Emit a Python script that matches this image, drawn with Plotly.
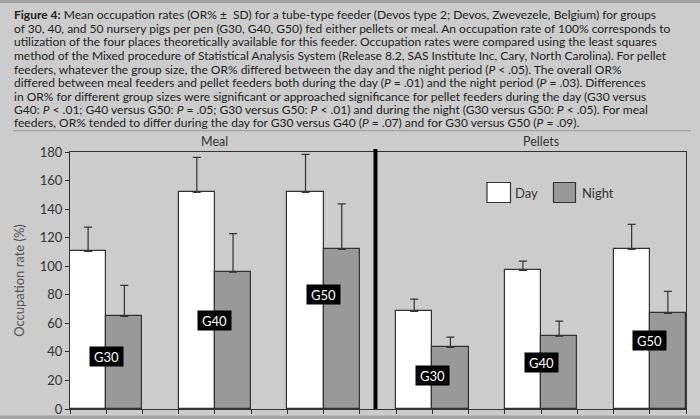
import plotly.graph_objects as go

# ---- data ----
groups = ["G30", "G40", "G50", "G30", "G40", "G50"]
feed = ["Meal", "Meal", "Meal", "Pellets", "Pellets", "Pellets"]
day_mean = [110.4, 151.7, 151.7, 68.4, 97.1, 111.8]
day_sd = [17.0, 24.5, 26.7, 8.6, 6.5, 17.5]
night_mean = [64.9, 95.9, 111.8, 43.2, 51.1, 67.0]
night_sd = [21.7, 26.9, 31.8, 7.2, 10.5, 15.4]
label_y = [37, 62, 80, 23.6, 32.4, 48.3]
y_ticks = [0, 20, 40, 60, 80, 100, 120, 140, 160, 180]

caption = [
    "<b>Figure 4:</b> Mean occupation rates (OR% ±  SD) for a tube-type feeder (Devos type 2; Devos, Zwevezele, Belgium) for groups",
    "of 30, 40, and 50 nursery pigs per pen (G30, G40, G50) fed either pellets or meal. An occupation rate of 100% corresponds to",
    "utilization of the four places theoretically available for this feeder. Occupation rates were compared using the least squares",
    "method of the Mixed procedure of Statistical Analysis System (Release 8.2, SAS Institute Inc, Cary, North Carolina). For pellet",
    "feeders, whatever the group size, the OR% differed between the day and the night period (<i>P</i> < .05). The overall OR%",
    "differed between meal feeders and pellet feeders both during the day (<i>P</i> = .01) and the night period (<i>P</i> = .03). Differences",
    "in OR% for different group sizes were significant or approached significance for pellet feeders during the day (G30 versus",
    "G40: <i>P</i> < .01; G40 versus G50: <i>P</i> = .05; G30 versus G50: <i>P</i> < .01) and during the night (G30 versus G50: <i>P</i> < .05). For meal",
    "feeders, OR% tended to differ during the day for G30 versus G40 (<i>P</i> = .07) and for G30 versus G50 (<i>P</i> = .09).",
]

# ---- geometry ----
W, H = 700, 419
L, R, T, B = 70, 14, 152, 10
PW, PH = W - L - R, H - T - B
def px(xpix):
    return (xpix - L) / PW
def py(ypix):
    return (H - B - ypix) / PH

FONT = "Lato"
BG = "#cccccc"
EDGE = "#333333"

n = len(groups)
step = 3
day_x = [i * step + 0.5 for i in range(n)]
night_x = [i * step + 1.5 for i in range(n)]
xmax = n * step - 1

fig = go.Figure()
fig.add_trace(go.Bar(
    x=day_x, y=day_mean, width=1, name="Day",
    marker=dict(color="white", line=dict(color=EDGE, width=1.2)),
    error_y=dict(type="data", array=day_sd, arrayminus=[0] * n, symmetric=False,
                 color=EDGE, thickness=1.2, width=4),
))
fig.add_trace(go.Bar(
    x=night_x, y=night_mean, width=1, name="Night",
    marker=dict(color="#999999", line=dict(color=EDGE, width=1.2)),
    error_y=dict(type="data", array=night_sd, arrayminus=[0] * n, symmetric=False,
                 color=EDGE, thickness=1.2, width=4),
))

ann = []
for i, g in enumerate(groups):
    ann.append(dict(x=i * step + 1, y=label_y[i], xref="x", yref="y", text=g,
                    showarrow=False, bgcolor="black", width=31, height=17, borderpad=1,
                    font=dict(family=FONT, size=13, color="white")))

# panel titles
panels = ["Meal", "Pellets"]
for k, p in enumerate(panels):
    idx = [i for i, f in enumerate(feed) if f == p]
    cx = (idx[0] * step + idx[-1] * step + 2) / 2
    ann.append(dict(x=cx, y=py(142), xref="x", yref="paper", text=p, showarrow=False,
                    yanchor="middle", font=dict(family=FONT, size=12.5, color="#333333")))

# legend text
ann.append(dict(x=px(513), y=py(192.5), xref="paper", yref="paper", text="Day", xanchor="left",
                yanchor="middle", showarrow=False, font=dict(family=FONT, size=13, color="#333333")))
ann.append(dict(x=px(580), y=py(192.5), xref="paper", yref="paper", text="Night", xanchor="left",
                yanchor="middle", showarrow=False, font=dict(family=FONT, size=13, color="#333333")))

# caption
for j, line in enumerate(caption):
    ann.append(dict(x=px(12), y=py(15 + j * 13.5), xref="paper", yref="paper", text=line,
                    xanchor="left", yanchor="middle", showarrow=False,
                    font=dict(family=FONT, size=12.0, color="#222222")))

shapes = [
    # top and bottom bands
    dict(type="rect", xref="paper", yref="paper", x0=px(0), x1=px(W), y0=py(0), y1=py(3),
         fillcolor="#a3a3a3", line=dict(width=0), layer="below"),
    dict(type="rect", xref="paper", yref="paper", x0=px(0), x1=px(W), y0=py(415.5), y1=py(H),
         fillcolor="#a3a3a3", line=dict(width=0), layer="below"),
    # caption separator
    dict(type="line", xref="paper", yref="paper", x0=px(13), x1=px(691), y0=py(130.7), y1=py(130.7),
         line=dict(color="#999999", width=1)),
    # divider between meal and pellets
    dict(type="line", xref="x", yref="paper", x0=8.43, x1=8.43, y0=0, y1=py(149),
         line=dict(color="black", width=4)),
    # legend swatches
    dict(type="rect", xref="paper", yref="paper", x0=px(487), x1=px(510.5), y0=py(182.5), y1=py(202.5),
         fillcolor="white", line=dict(color=EDGE, width=1.2)),
    dict(type="rect", xref="paper", yref="paper", x0=px(553.5), x1=px(575.5), y0=py(182.5), y1=py(202.5),
         fillcolor="#999999", line=dict(color=EDGE, width=1.2)),
]

fig.update_layout(
    width=W, height=H,
    margin=dict(l=L, r=R, t=T, b=B, autoexpand=False),
    paper_bgcolor=BG, plot_bgcolor=BG,
    showlegend=False, bargap=0,
    annotations=ann, shapes=shapes,
    xaxis=dict(range=[0, xmax], tickvals=list(range(0, xmax + 1)), showticklabels=False,
               automargin=False,
               ticks="outside", ticklen=4, tickcolor=EDGE, showgrid=False, zeroline=False,
               showline=True, linecolor=EDGE, linewidth=1.2, mirror=True),
    yaxis=dict(range=[0, 180], tickvals=y_ticks, ticks="outside", ticklen=4, tickcolor=EDGE,
               automargin=False,
               showgrid=False, zeroline=False, showline=True, linecolor=EDGE, linewidth=1.2,
               mirror=True, tickfont=dict(family=FONT, size=13, color="#333333"),
               title=dict(text="Occupation rate (%)", standoff=12,
                          font=dict(family=FONT, size=13, color="#555555"))),
)

fig.write_html("out.html")
